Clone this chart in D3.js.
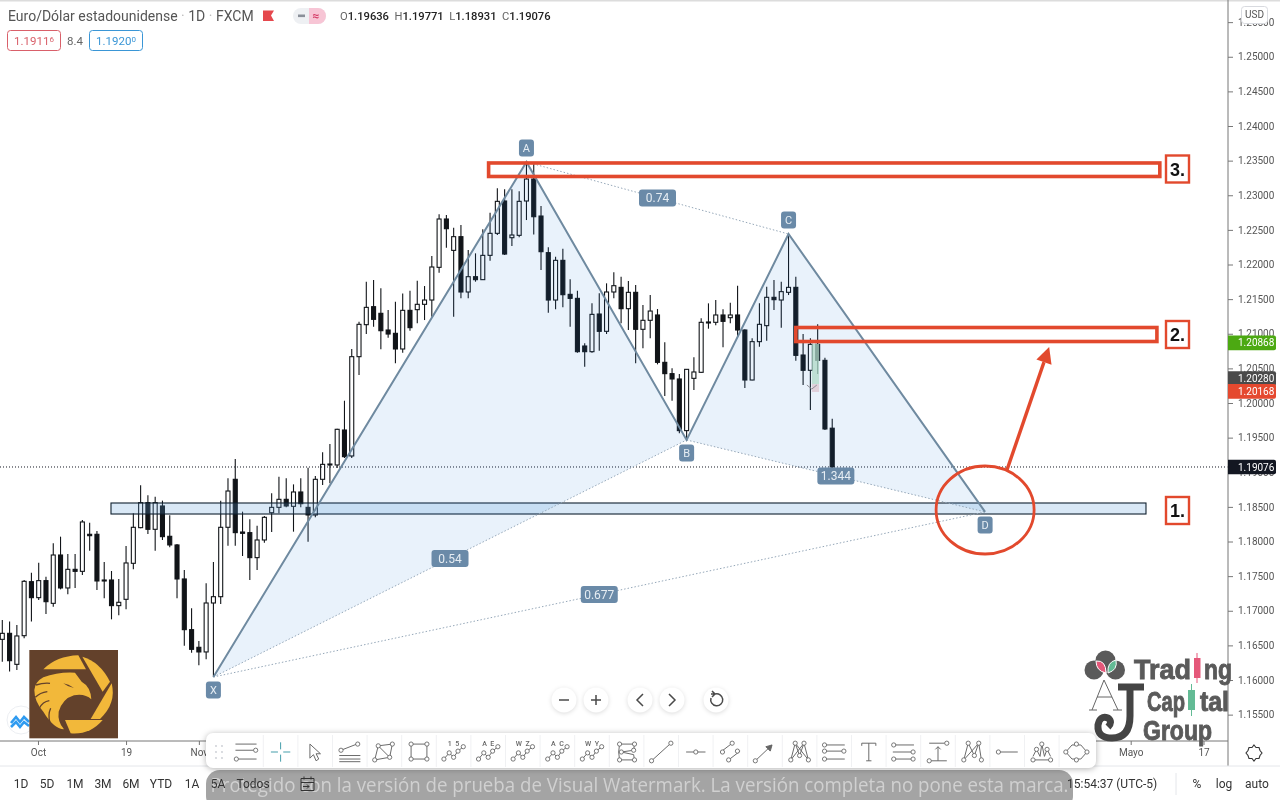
<!DOCTYPE html>
<html lang="es">
<head>
<meta charset="utf-8">
<title>Euro/Dólar estadounidense</title>
<script src="https://cdnjs.cloudflare.com/ajax/libs/d3/7.9.0/d3.min.js"></script>
<style>
html,body{margin:0;padding:0;background:#fff;overflow:hidden}
svg{display:block;filter:blur(.35px)}
text{font-family:Roboto,"Open Sans",sans-serif}
.axis text{font-size:10px;fill:#555;font-family:Roboto,sans-serif}
</style>
</head>
<body>
<svg id="c" width="1280" height="800"></svg>
<script>
const opens=[1.16587,1.16674,1.16226,1.1664,1.1742,1.17189,1.17435,1.17107,1.17805,1.17329,1.17598,1.17569,1.18104,1.18104,1.17444,1.17444,1.17074,1.17165,1.17685,1.182,1.18561,1.18176,1.18513,1.18075,1.1795,1.17459,1.16727,1.16472,1.16405,1.17112,1.17203,1.18205,1.18898,1.18137,1.18128,1.17767,1.18022,1.18416,1.18493,1.18609,1.18508,1.18715,1.18493,1.18383,1.18898,1.19119,1.19105,1.1961,1.19235,1.20669,1.21131,1.21391,1.21295,1.21054,1.21006,1.2078,1.21338,1.21348,1.21425,1.21487,1.21959,1.22657,1.22204,1.22402,1.21603,1.21824,1.21781,1.22132,1.2245,1.22917,1.22387,1.22421,1.22917,1.23234,1.227,1.22171,1.21487,1.2206,1.21569,1.21511,1.20823,1.20741,1.21285,1.21035,1.21603,1.2167,1.21362,1.21598,1.21064,1.21194,1.21271,1.20587,1.20424,1.20347,1.19601,1.20356,1.20443,1.2117,1.21165,1.21271,1.21232,1.21271,1.21054,1.20332,1.20886,1.21117,1.21526,1.21487,1.21598,1.2167,1.20693,1.20472,1.20847,1.20616,1.19636];
const highs=[1.16867,1.16843,1.16794,1.17444,1.1755,1.17694,1.17492,1.17974,1.1807,1.1782,1.1782,1.1831,1.18272,1.18152,1.17704,1.17574,1.17459,1.17935,1.18407,1.18811,1.18667,1.18647,1.1859,1.18378,1.17964,1.17589,1.17035,1.16563,1.17396,1.17704,1.1859,1.18912,1.19191,1.18431,1.1832,1.18229,1.18368,1.18696,1.18936,1.18912,1.18825,1.18912,1.19066,1.18946,1.19288,1.19408,1.19629,1.20033,1.2078,1.21174,1.21752,1.21776,1.21656,1.21343,1.21463,1.21583,1.21622,1.21766,1.21689,1.22122,1.22724,1.22714,1.22532,1.2257,1.22209,1.22161,1.22508,1.22748,1.231,1.23085,1.23085,1.23056,1.2346,1.2346,1.22844,1.22248,1.22113,1.22228,1.21786,1.21622,1.20862,1.21439,1.21584,1.21728,1.21887,1.21824,1.21762,1.21704,1.21415,1.21559,1.21357,1.20876,1.20501,1.20419,1.20486,1.20659,1.21223,1.21439,1.21487,1.21353,1.21449,1.21694,1.21064,1.20934,1.21439,1.2168,1.21776,1.21752,1.22426,1.21824,1.20996,1.20934,1.21136,1.20655,1.19771];
const lows=[1.16265,1.16121,1.16145,1.16602,1.16843,1.17155,1.16953,1.17059,1.17309,1.17237,1.17329,1.17516,1.17868,1.173,1.17179,1.16876,1.16934,1.17021,1.17598,1.1819,1.18108,1.17868,1.18022,1.17916,1.17179,1.16496,1.16395,1.16212,1.16299,1.16048,1.17098,1.1794,1.1794,1.17791,1.17444,1.17589,1.17983,1.18137,1.18407,1.18493,1.18142,1.18493,1.17998,1.18349,1.18816,1.1884,1.19061,1.19206,1.19206,1.20404,1.20996,1.21102,1.20775,1.20943,1.20573,1.20727,1.21044,1.2115,1.21198,1.21246,1.21882,1.22243,1.21246,1.21511,1.21511,1.21752,1.21776,1.22055,1.22426,1.22137,1.22267,1.22392,1.22642,1.22435,1.2192,1.21304,1.21352,1.21381,1.21102,1.20727,1.20525,1.20727,1.20756,1.20996,1.21511,1.2115,1.21054,1.20573,1.20789,1.20934,1.20558,1.20101,1.20034,1.19562,1.1949,1.20188,1.20438,1.21073,1.21122,1.20804,1.2115,1.20948,1.20217,1.20327,1.20813,1.209,1.21343,1.21088,1.21559,1.20611,1.2026,1.19899,1.20419,1.1961,1.18931];
const closes=[1.16674,1.16279,1.16636,1.17425,1.17189,1.17435,1.17131,1.17805,1.17329,1.17598,1.17569,1.18282,1.18084,1.1743,1.1743,1.17074,1.17122,1.1769,1.18205,1.18561,1.18176,1.18561,1.1807,1.1795,1.17459,1.16727,1.16443,1.16405,1.17112,1.17203,1.18205,1.18729,1.18128,1.18118,1.17767,1.18022,1.18349,1.18493,1.18609,1.18513,1.18715,1.18546,1.18383,1.18898,1.19114,1.19105,1.1962,1.19225,1.20669,1.21136,1.21381,1.21208,1.21044,1.20996,1.2078,1.21338,1.21088,1.21425,1.21487,1.21964,1.22657,1.22517,1.22402,1.21603,1.21824,1.21781,1.22132,1.2245,1.22912,1.22151,1.22426,1.22912,1.23234,1.2269,1.22185,1.21487,1.2206,1.21564,1.21511,1.20741,1.20741,1.2128,1.21035,1.21603,1.21694,1.21362,1.21598,1.21064,1.21194,1.21328,1.20587,1.20424,1.20347,1.19601,1.20486,1.20448,1.21165,1.2116,1.21271,1.21179,1.21271,1.21054,1.20332,1.20886,1.21136,1.21526,1.21492,1.21608,1.2167,1.20688,1.20472,1.20847,1.20616,1.19625,1.19076];

const priceTicks=[1.155,1.16,1.165,1.17,1.175,1.18,1.185,1.19,1.195,1.2,1.205,1.21,1.215,1.22,1.225,1.23,1.235,1.24,1.245,1.25,1.255];
const timeTicks=[4.9,17,27,155,165];
const timeLabels=["Oct","19","Nov","Mayo","17"];

const patternNames=["X","A","B","C","D"];
const patternIndex=[29,72,94,108,135];
const patternPrice=[1.16043,1.2348,1.19466,1.2244,1.18427];
const ratioLabels=["0.54","0.74","1.344","0.677"];
const ratioFrom=[0,1,2,0];
const ratioTo=[2,3,4,4];

const zoneIndex=[14.93,157.1];
const zonePrice=[1.18556,1.18397];
const box3Index=[66.8,159];
const box3Price=[1.23466,1.23271];
const box2Index=[109,158.6];
const box2Price=[1.2109,1.20888];
const ellipseAt=[135,1.18455];
const arrowIndex=[138,143.8];
const arrowPrice=[1.19033,1.20809];
const tradeIndex=[111.2,112.2];
const tradePrice=[1.20852,1.20274,1.20159];

const tagNames=["1.20868","1.20280","1.20168","1.19076"];
const tagPrices=[1.20868,1.2028,1.20168,1.19076];
const tagColors=["#4ca912","#4a4a4a","#e5492f","#131722"];
const tagNudge=[0,-5,0,0];
const rangeLabels=["1D","5D","1M","3M","6M","YTD","1A","5A","Todos"];
const rangeX=[21,47,75,103,131,161,192,218,253];

const svg=d3.select("#c");
const x=d3.scaleLinear().domain([0,100]).range([2.3,730.3]);
const y=d3.scaleLinear().domain([1.2,1.25]).range([403,56.75]);
const LINE="#111418",RED="#e2492d",LAB="#6a8aa8",SLATE="#6f8aa0";

const cnd=svg.append("g");
opens.forEach((o,i)=>{
  const c=closes[i],up=c>=o,px=x(i),t=y(Math.max(o,c)),b=y(Math.min(o,c));
  cnd.append("line").attr("x1",px).attr("x2",px).attr("y1",y(highs[i])).attr("y2",y(lows[i])).attr("stroke",LINE).attr("stroke-width",1.1);
  cnd.append("rect").attr("x",px-2).attr("width",4).attr("y",t).attr("height",Math.max(b-t,1))
    .attr("fill",up?"#fff":LINE).attr("stroke",LINE).attr("stroke-width",1.1);
});

// long-position tool near the last candles
svg.append("rect").attr("x",x(tradeIndex[0])).attr("width",x(tradeIndex[1])-x(tradeIndex[0])).attr("y",y(tradePrice[0])).attr("height",y(tradePrice[1])-y(tradePrice[0])).attr("fill","#bfe3c5").attr("fill-opacity",.75);
svg.append("rect").attr("x",x(tradeIndex[0])).attr("width",x(tradeIndex[1])-x(tradeIndex[0])).attr("y",y(tradePrice[1])).attr("height",y(tradePrice[2])-y(tradePrice[1])).attr("fill","#f3cfd2").attr("fill-opacity",.8);
svg.append("path").attr("d",`M${x(tradeIndex[0])-5},${y(tradePrice[1])+1}l5,4l5,-4`).attr("fill","none").attr("stroke","#9a8f8f").attr("stroke-width",1);

// last-price line
svg.append("line").attr("x1",0).attr("x2",x(168.3)).attr("y1",y(closes[114])).attr("y2",y(closes[114])).attr("stroke","#131722").attr("stroke-width",1).attr("stroke-dasharray","1 2");

// support zone
svg.append("rect").attr("x",x(zoneIndex[0])).attr("width",x(zoneIndex[1])-x(zoneIndex[0])).attr("y",y(zonePrice[0])).attr("height",y(zonePrice[1])-y(zonePrice[0]))
  .attr("fill","#5f9fd8").attr("fill-opacity",.24).attr("stroke","#10202f").attr("stroke-width",1.1);

// harmonic pattern
const P=patternIndex.map((v,i)=>[x(v),y(patternPrice[i])]);
const poly=d=>d.map(p=>p.join(",")).join(" ");
svg.append("polygon").attr("points",poly([P[0],P[1],P[2]])).attr("fill","#2680d8").attr("fill-opacity",.1);
svg.append("polygon").attr("points",poly([P[2],P[3],P[4]])).attr("fill","#2680d8").attr("fill-opacity",.1);
ratioFrom.forEach((f,i)=>{
  svg.append("line").attr("x1",P[f][0]).attr("y1",P[f][1]).attr("x2",P[ratioTo[i]][0]).attr("y2",P[ratioTo[i]][1]).attr("stroke","#95a7b8").attr("stroke-width",1).attr("stroke-dasharray","1.5 2");
});
svg.append("polyline").attr("points",poly(P)).attr("fill","none").attr("stroke",SLATE).attr("stroke-width",2);
function tag(cx,cy,w,h,t,fs){
  svg.append("rect").attr("x",cx-w/2).attr("y",cy-h/2).attr("width",w).attr("height",h).attr("rx",3).attr("fill",LAB);
  svg.append("text").attr("x",cx).attr("y",cy+4.2).attr("text-anchor","middle").attr("font-size",fs||12).attr("fill","#e6edf3").text(t);
}
ratioLabels.forEach((t,i)=>{
  const a=P[ratioFrom[i]],b=P[ratioTo[i]];
  tag((a[0]+b[0])/2,(a[1]+b[1])/2,t.length>4?37:(t.length>3?37:31),17,t);
});
const above=[false,true,false,true,false];
patternNames.forEach((n,i)=>{tag(P[i][0],P[i][1]+(above[i]?-14:13),15,17,n,11);});

// red annotations
function redRect(ix,pr,sw){
  svg.append("rect").attr("x",x(ix[0])).attr("width",x(ix[1])-x(ix[0])).attr("y",y(pr[0])).attr("height",y(pr[1])-y(pr[0])).attr("fill","none").attr("stroke",RED).attr("stroke-width",sw);
}
redRect(box3Index,box3Price,3.6);
redRect(box2Index,box2Price,3.6);
svg.append("ellipse").attr("cx",x(ellipseAt[0])).attr("cy",y(ellipseAt[1])).attr("rx",49).attr("ry",44).attr("fill","none").attr("stroke",RED).attr("stroke-width",2.8);
const ax0=x(arrowIndex[0]),ay0=y(arrowPrice[0]),ax1=x(arrowIndex[1]),ay1=y(arrowPrice[1]);
const ang=Math.atan2(ay1-ay0,ax1-ax0),hl=16,hw=8;
const bx=ax1-Math.cos(ang)*hl,by=ay1-Math.sin(ang)*hl;
svg.append("line").attr("x1",ax0).attr("y1",ay0).attr("x2",bx).attr("y2",by).attr("stroke",RED).attr("stroke-width",3.4);
svg.append("polygon").attr("points",[[ax1,ay1],[bx-Math.sin(ang)*hw,by+Math.cos(ang)*hw],[bx+Math.sin(ang)*hw,by-Math.cos(ang)*hw]].map(p=>p.join(",")).join(" ")).attr("fill",RED);
[["3.",169],["2.",334.5],["1.",510.5]].forEach(([t,cy])=>{
  svg.append("rect").attr("x",1166).attr("y",cy-13.5).attr("width",23).attr("height",27).attr("fill","#fff").attr("stroke",RED).attr("stroke-width",2.4);
  svg.append("text").attr("x",1177.5).attr("y",cy+6.5).attr("text-anchor","middle").attr("font-size",18).attr("font-weight",700).attr("fill","#111").style("font-family","'Liberation Sans',sans-serif").text(t);
});

// frame and axes
svg.append("rect").attr("width",1280).attr("height",1.5).attr("fill","#dcdcdc");
const yAxis=d3.axisRight(y).tickValues(priceTicks).tickFormat(d3.format(".5f")).tickSize(5).tickPadding(5);
const yG=svg.append("g").attr("class","axis").attr("transform","translate(1228,0)").call(yAxis);
yG.select(".domain").remove();
yG.selectAll("line").attr("stroke","#777");
const xAxis=d3.axisBottom(x).tickValues(timeTicks).tickFormat((d,i)=>timeLabels[i]).tickSize(4).tickPadding(4);
const xG=svg.append("g").attr("class","axis").attr("transform","translate(0,741)").call(xAxis);
xG.select(".domain").remove();
xG.selectAll("line").attr("stroke","#777");
svg.append("line").attr("x1",0).attr("x2",1228).attr("y1",741).attr("y2",741).attr("stroke","#777").attr("stroke-width",1);
svg.append("line").attr("x1",1228).attr("x2",1228).attr("y1",0).attr("y2",766).attr("stroke","#777").attr("stroke-width",1);
svg.append("line").attr("x1",0).attr("x2",1280).attr("y1",766).attr("y2",766).attr("stroke","#e4e6ea").attr("stroke-width",1);

tagPrices.forEach((p,i)=>{
  const cy=y(p)+tagNudge[i];
  svg.append("path").attr("d",`M1228,${cy-7.3}H1274a2,2 0 0 1 2,2V${cy+5.3}a2,2 0 0 1 -2,2H1228Z`).attr("fill",tagColors[i]);
  svg.append("text").attr("x",1238).attr("y",cy+3.6).attr("font-size",10).attr("fill","#fff").text(tagNames[i]);
});
svg.append("rect").attr("x",1241.5).attr("y",6.5).attr("width",26).attr("height",17).attr("rx",3).attr("fill","#fff").attr("stroke","#d8dadf");
svg.append("text").attr("x",1254.5).attr("y",18).attr("text-anchor","middle").attr("font-size",10).attr("fill","#555").text("USD");

// header
const head=svg.append("text").attr("x",8).attr("y",20.5).attr("font-size",14).attr("fill","#555");
head.append("tspan").text("Euro/Dólar estadounidense ");
head.append("tspan").attr("fill","#bbb").text("·");
head.append("tspan").text(" 1D ");
head.append("tspan").attr("fill","#bbb").text("·");
head.append("tspan").text(" FXCM");
svg.append("path").attr("d","M263,10.5H274l-3,5l3,5.5H263Z").attr("fill","#e5484d");
svg.append("rect").attr("x",293).attr("y",8).attr("width",33).attr("height",16).attr("rx",8).attr("fill","#eef0f3");
svg.append("path").attr("d","M309,8h9a8,8 0 0 1 0,16h-9Z").attr("fill","#f7c5d5");
svg.append("rect").attr("x",298).attr("y",14.5).attr("width",7).attr("height",2.6).attr("fill","#8a8f99");
svg.append("text").attr("x",316).attr("y",20).attr("text-anchor","middle").attr("font-size",12).attr("fill","#d6406a").attr("font-weight",700).text("≈");
const ohlc=svg.append("text").attr("x",340).attr("y",20).attr("font-size",11.2);
[["O","1.19636"],["H","1.19771"],["L","1.18931"],["C","1.19076"]].forEach(([k,v],i)=>{
  ohlc.append("tspan").attr("dx",i?5.5:0).attr("fill","#666").text(k);
  ohlc.append("tspan").attr("fill","#222").attr("font-weight",500).text(v);
});
function priceBox(bxx,w,col,main,sup){
  svg.append("rect").attr("x",bxx).attr("y",30.5).attr("width",w).attr("height",20).attr("rx",3).attr("fill","#fff").attr("stroke",col);
  const t=svg.append("text").attr("x",bxx+w/2).attr("y",44.5).attr("text-anchor","middle").attr("font-size",11.5).attr("fill",col);
  t.append("tspan").text(main);
  t.append("tspan").attr("font-size",8).attr("dy",-3).text(sup);
}
priceBox(7.5,53,"#d9606a","1.1911","6");
svg.append("text").attr("x",67).attr("y",44.5).attr("font-size",11.5).attr("fill","#666").text("8.4");
priceBox(89.5,53,"#3a96d6","1.1920","0");

// floating controls
[[564,"M-5,0H5"],[596,"M-5,0H5M0,-5V5"],[640,"M3,-6L-3,0L3,6"],[672,"M-3,-6L3,0L-3,6"],[716,"M-5,-2A6,6 0 1 0 -1,-6H-5M-4,-9L-1,-6L-4,-3"]].forEach(([cx,d])=>{
  const g=svg.append("g").attr("transform",`translate(${cx},700)`);
  g.append("circle").attr("r",12.5).attr("fill","#fff").style("filter","drop-shadow(0 1px 2px rgba(0,0,0,.14))");
  g.append("path").attr("d",d).attr("fill","none").attr("stroke","#4a4a4a").attr("stroke-width",1.5);
});

// TradingView badge
const tv=svg.append("g").attr("transform","translate(21,720)");
tv.append("circle").attr("r",14).attr("fill","#fff").attr("stroke","#eceef2");
tv.append("path").attr("d","M-10,3L-5,-3L-1,2L3,-3L8,2M-10,7L-5,2L-1,7L3,2L8,6").attr("fill","none").attr("stroke","#2f9bf0").attr("stroke-width",2.6);

// eagle logo
const e=svg.append("g").attr("transform","translate(0,640) scale(.3333)");
e.append("rect").attr("x",88).attr("y",30).attr("width",266).attr("height",265).attr("fill","#63412b");
const Y="#f2b83a",BR="#63412b";
["M130,88Q170,48 235,46L258,88Z","M247,50Q300,65 330,125L308,155Z","M335,130Q350,190 300,237H272Z","M195,240H308Q270,285 212,280Z",
 "M103,150Q106,125 130,112Q175,95 225,98L245,125Q272,140 274,178Q255,160 222,166Q188,176 176,215Q172,245 192,268Q160,265 130,215Q103,185 103,150Z"
].forEach(d=>e.append("path").attr("d",d).attr("fill",Y));
["M108,135Q130,128 150,130","M106,172Q120,158 142,155","M118,205Q128,185 148,182","M150,248Q143,225 152,205"].forEach(d=>e.append("path").attr("d",d).attr("fill","none").attr("stroke",BR).attr("stroke-width",4));
e.append("path").attr("d","M190,130Q205,132 222,144Q205,142 190,130Z").attr("fill",BR);

// Trading Capital Group logo
const GR="#5a5a5a";
[[1105.5,660.5,10],[1094,670,9.5],[1115.5,670,9.5]].forEach(([a,b,r])=>svg.append("circle").attr("cx",a).attr("cy",b).attr("r",r).attr("fill",GR));
svg.append("path").attr("d","M1096,661Q1106,660 1106,673Q1096,671 1096,661Z").attr("fill","#e5587a").attr("stroke","#fff");
svg.append("path").attr("d","M1108,673Q1107,662 1116,660Q1118,670 1108,673Z").attr("fill","#63bb95").attr("stroke","#fff");
svg.append("path").attr("d","M1092,710L1104,680L1118,710M1097,697H1112M1089,710H1097M1113,710H1122").attr("fill","none").attr("stroke","#666").attr("stroke-width",1);
svg.append("path").attr("d","M1118,687H1144M1130,687V716Q1130,738 1112,738Q1097,738 1098,725Q1100,715 1108,718Q1113,722 1108,727").attr("fill","none").attr("stroke","#444").attr("stroke-width",7);
const logoText=(t,a,b,len,fs)=>svg.append("text").attr("x",a).attr("y",b).attr("font-size",fs).attr("font-weight",700).attr("fill",GR).attr("stroke",GR).attr("stroke-width",.9).attr("textLength",len).attr("lengthAdjust","spacingAndGlyphs").style("font-family","'Liberation Sans',sans-serif").text(t);
logoText("Trad",1134,679,57,27);
logoText("ng",1204,679,28,27);
logoText("Cap",1147,711,38,27);
logoText("tal",1200,711,29,27);
logoText("Group",1143,740,69,27);
svg.append("line").attr("x1",1197).attr("x2",1197).attr("y1",653).attr("y2",683).attr("stroke","#e5587a");
svg.append("rect").attr("x",1194).attr("y",658).attr("width",6.5).attr("height",20).attr("fill","#e5587a");
svg.append("line").attr("x1",1191.5).attr("x2",1191.5).attr("y1",684).attr("y2",716).attr("stroke","#63bb95");
svg.append("rect").attr("x",1188).attr("y",690).attr("width",7).attr("height",20).attr("fill","#63bb95");

// watermark band
svg.append("rect").attr("x",206).attr("y",770).attr("width",867).attr("height",40).attr("rx",14).attr("fill","#a4a4a4");
svg.append("text").attr("x",639.5).attr("y",792).attr("text-anchor","middle").attr("font-size",20).attr("fill","#d0d0d0").attr("textLength",858).attr("lengthAdjust","spacingAndGlyphs").style("font-family","'Open Sans',sans-serif").text("Protegido con la versión de prueba de Visual Watermark. La versión completa no pone esta marca.");

// bottom bar
rangeLabels.forEach((t,i)=>svg.append("text").attr("x",rangeX[i]).attr("y",788).attr("text-anchor","middle").attr("font-size",12).attr("fill","#333").text(t));
svg.append("path").attr("d","M301,778.5h13v12h-13ZM301,782.5h13M304,776.5v3M311,776.5v3M303,786.5h6l-2,-2M309,786.5l-2,2").attr("fill","none").attr("stroke","#333").attr("stroke-width",1);
svg.append("text").attr("x",1067).attr("y",788).attr("font-size",12).attr("fill","#333").text("15:54:37 (UTC-5)");
svg.append("line").attr("x1",1176).attr("x2",1176).attr("y1",773).attr("y2",795).attr("stroke","#e4e6ea");
[["%",1197],["log",1224],["auto",1257]].forEach(([t,a])=>svg.append("text").attr("x",a).attr("y",788).attr("text-anchor","middle").attr("font-size",12).attr("fill","#333").text(t));
svg.append("path").attr("d","M1254,747l2,2.5h3l1,3l2,2.5l-2,2.5l-1,3h-3l-2,2.5l-2,-2.5h-3l-1,-3l-2,-2.5l2,-2.5l1,-3h3Z").attr("transform","translate(0,-2)").attr("fill","none").attr("stroke","#333").attr("stroke-width",1.1);

// drawing toolbar
svg.append("rect").attr("x",206).attr("y",733).attr("width",890).attr("height",35).attr("rx",7).attr("fill","#fff").style("filter","drop-shadow(0 1px 3px rgba(0,0,0,.3))");
const tb=svg.append("g");
const dots=[[216,746],[222,746],[216,752],[222,752],[216,758],[222,758]];
dots.forEach(([a,b])=>tb.append("circle").attr("cx",a).attr("cy",b).attr("r",.9).attr("fill","#c9ccd2"));
const ic="#666";
const zig="M-11,8L-5,1L0,6L5,-1L11,-6";
const zigN=[[-11,8],[-5,1],[0,6],[5,-1],[11,-6]];
const icons=[
 {d:"M-12,-9H12M-12,-2H9M-9,8H12",n:[[11,-2],[-11,8]]},
 {d:"M0,-11V-3M0,3V11M-11,0H-3M3,0H11",c:"#3f9aa8"},
 {d:"M-6,-9L6,2H1L4,8L1,10L-2,3L-6,7Z"},
 {d:"M-10,-2L8,-9M-12,4H12M-12,8H12M-12,11H12",n:[[-10,-2],[9,-9]]},
 {d:"M-11,9L-7,-7L9,-9L6,6ZM-7,-7L6,6",n:[[-11,9],[-7,-7],[9,-9],[6,6]]},
 {d:"M-9,-9H9V8H-9Z",n:[[-9,-9],[9,-9],[9,8],[-9,8]]},
 {d:zig,n:zigN,t:"1 5"},{d:zig,n:zigN,t:"A E"},{d:zig,n:zigN,t:"W Z"},{d:zig,n:zigN,t:"A C"},{d:zig,n:zigN,t:"W Y"},
 {d:"M-8,-9L9,-9L8,-2L-6,0L8,3L9,9L-8,9L-9,0Z",n:[[-8,-9],[9,-9],[8,-2],[-6,0],[-8,9],[9,9]]},
 {d:"M-11,10L11,-10",n:[[-11,10],[11,-10]]},
 {d:"M-11,0H11",n:[[0,0]]},
 {d:"M-11,0L2,-10M-2,9L11,-1",n:[[2,-10],[-2,9],[-9,0],[8,-1]]},
 {d:"M-11,10L8,-8M8,-8l-7,2l5,5Z",n:[[-11,10]],fill:true},
 {d:"M-10,9L-5,-10L0,4L5,-10L10,9M-10,9L5,-10M-5,-10L10,9",n:[[-10,9],[-5,-10],[5,-10],[10,9],[0,4]]},
 {d:"M-12,-8H12M-12,-1H12M-12,8H12",n:[[-11,-8],[-11,-1],[-11,8],[11,-1]]},
 {d:"M-8,-10H8M0,-10V10M-3,10H3M-8,-10V-7M8,-10V-7"},
 {d:"M-12,-8H12M-12,0H12M-12,8H12",n:[[-11,-8],[-11,8],[11,0],[11,8]]},
 {d:"M-10,-10H10M-10,10H10M0,10V-6M-3,-3L0,-6L3,-3",n:[[10,-10],[-10,10]]},
 {d:"M-10,9L-5,-10L2,4L7,-10L10,9M-10,9L7,-10",n:[[-10,9],[-5,-10],[7,-10],[10,9],[2,4]]},
 {d:"M-10,0H12",n:[[-10,0]]},
 {d:"M-12,9H12M-10,5L-6,-3L-2,5L0,-9L3,5L6,-3L10,5",n:[[-10,9],[-6,-3],[0,-9],[6,-3],[10,9]]},
 {d:"M-12,0L-5,-8H5L12,0L5,8H-5Z",n:[[-12,0],[0,-9],[12,0],[0,9]]}
];
icons.forEach((c,i)=>{
  const cx=246+34.6*i,g=tb.append("g").attr("transform",`translate(${cx},752) scale(.88)`);
  if(i) tb.append("line").attr("x1",cx-17.3).attr("x2",cx-17.3).attr("y1",735).attr("y2",767).attr("stroke","#f0f1f3");
  g.append("path").attr("d",c.d).attr("fill",c.fill?ic:"none").attr("stroke",c.c||ic).attr("stroke-width",1.1);
  (c.n||[]).forEach(([a,b])=>g.append("circle").attr("cx",a).attr("cy",b).attr("r",2.4).attr("fill","#fff").attr("stroke",ic).attr("stroke-width",1));
  if(c.t) g.append("text").attr("x",0).attr("y",-7).attr("text-anchor","middle").attr("font-size",8).attr("font-weight",500).attr("fill",ic).attr("xml:space","preserve").text(c.t.replace(" ","  "));
});
</script>
</body>
</html>
